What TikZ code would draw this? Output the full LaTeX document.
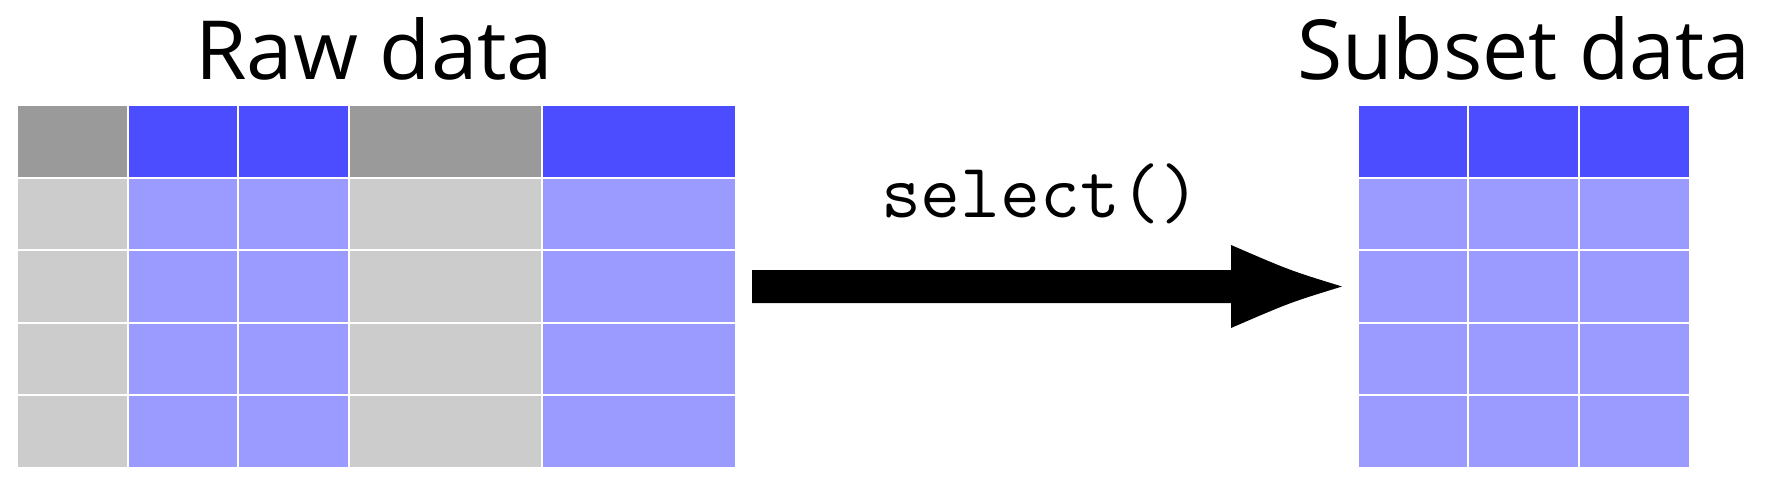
\documentclass[tikz,border=0pt]{standalone}
\usepackage{fontspec}
\newfontfamily\handfont{Open Sans}
\definecolor{hdg}{HTML}{9A9A9A}
\definecolor{bdg}{HTML}{CCCCCC}
\definecolor{hdb}{HTML}{4B4DFF}
\definecolor{bdb}{HTML}{9A9AFF}
\tikzset{
  gridline/.style={draw=white, line width=2pt},
  label text/.style={anchor=base west, inner sep=0pt},
  code text/.style={anchor=base, inner sep=0pt, font=\ttfamily\fontsize{77.4}{80}\selectfont},
  arrowfill/.style={fill=black}
}
\begin{document}
\begin{tikzpicture}[x=1pt,y=-1pt]
\useasboundingbox (0,0) rectangle (1768,484);
% left table
\foreach \xa/\xb/\k in {18/127.5/g,127.5/238/b,238/349/b,349/542/g,542/735/b}{
  \fill[hd\k] (\xa,106) rectangle (\xb,178);
  \fill[bd\k] (\xa,178) rectangle (\xb,467);
}
\foreach \x in {127.5,238,349,542}{\draw[gridline] (\x,106) -- (\x,467);}
\foreach \y in {178,250,322.5,395}{\draw[gridline] (18,\y) -- (735,\y);}
% right table
\foreach \xa/\xb in {1359/1468.3,1468.3/1578.5,1578.5/1689}{
  \fill[hdb] (\xa,106) rectangle (\xb,178);
  \fill[bdb] (\xa,178) rectangle (\xb,467);
}
\foreach \x in {1468.3,1578.5}{\draw[gridline] (\x,106) -- (\x,467);}
\foreach \y in {178,250,322.5,395}{\draw[gridline] (1359,\y) -- (1689,\y);}
% titles
\node[label text] (rawlabel) at (195,80) {\resizebox{358pt}{62pt}{\handfont Raw data}};
\node[label text] (sublabel) at (1297,80) {\resizebox{453pt}{63pt}{\handfont Subset data}};
\node[code text] (fnlabel) at (1040.5,217) {select()};
% arrow
\coordinate (arrowtail) at (752,286.5);
\coordinate (arrowtip) at (1342,286.5);
\fill[arrowfill] (752,270) -- (1231,270) -- (1231,245) .. controls (1290,270.5) .. (arrowtip)
  .. controls (1290,302.5) .. (1231,328) -- (1231,303) -- (752,303) -- cycle;
\end{tikzpicture}
\end{document}
